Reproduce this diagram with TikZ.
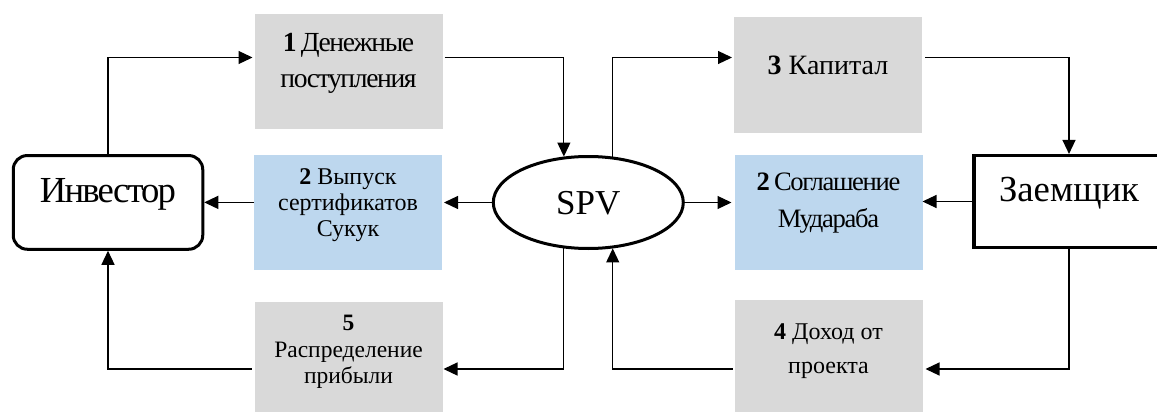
\documentclass[tikz,border=0pt]{standalone}
\usepackage{fontspec}
\setmainfont{Liberation Serif}
\newfontfamily\tightfont{Liberation Serif}[LetterSpace=-5]
\usetikzlibrary{arrows.meta, positioning, shapes.geometric}

\definecolor{stepgrey}{HTML}{D9D9D9}
\definecolor{stepblue}{HTML}{BDD7EE}

\begin{document}
\begin{tikzpicture}[
            x=1pt, y=-1pt,
            % Participants: investor, SPV, borrower
            party/.style={draw, line width=3pt, inner sep=0pt,
                text height=20pt, text depth=20pt,
                font=\fontsize{36.7}{40}\selectfont},
            % Step boxes (no border)
            stepbox/.style={minimum width=188pt, minimum height=115pt,
                inner sep=0pt, outer sep=0pt},
            greybox/.style={stepbox, fill=stepgrey},
            bluebox/.style={stepbox, fill=stepblue},
            % Text inside the step boxes
            steptext/.style={align=center, inner sep=0pt,
                font=\fontsize{24}{26}\selectfont},
            % Money / contract flows
            flow/.style={line width=1.2pt, -{Triangle[length=14pt, width=13pt]}}
        ]

            \useasboundingbox (0,0) rectangle (1157,412);
            \clip (0,0) rectangle (1157,412);

            % --- Participants ---
            \node[party, rounded corners=14pt, minimum width=189.5pt, minimum height=93.7pt,
                font=\tightfont\fontsize{36.7}{40}\selectfont] (inv) at (108,202.4) {Инвестор};
            \node[party, ellipse, minimum width=190pt, minimum height=92pt,
                text height=24pt, text depth=0pt,
                font=\fontsize{35}{40}\selectfont] (spv) at (588.3,202.5) {SPV};
            \node[party, line width=3.5pt, minimum width=190pt, minimum height=91.6pt]
                (zaem) at (1069,201.5) {Заемщик};

            % --- Steps, left column ---
            \node[greybox] (b1) at (348.5,71.5) {};
            \node[steptext, below=19.3pt of b1.north,
                font=\tightfont\fontsize{27.6}{35.5}\selectfont] (b1txt)
                {\textbf{1} Денежные\\поступления};

            \node[bluebox] (b2l) at (348,212) {};
            \node[steptext, below=13.8pt of b2l.north] (b2ltxt)
                {\textbf{2} Выпуск\\сертификатов\\Сукук};

            \node[greybox] (b5) at (348.5,359) {};
            \node[steptext, below=13.5pt of b5.north,
                font=\fontsize{23.5}{26.7}\selectfont] (b5txt)
                {\textbf{5}\\Распределение\\прибыли};

            % --- Steps, right column ---
            \node[greybox] (b3) at (828,75) {};
            \node[steptext, below=38pt of b3.north,
                font=\fontsize{28}{34}\selectfont] (b3txt)
                {\textbf{3} Капитал};

            \node[bluebox] (b2r) at (828.5,212) {};
            \node[steptext, below=18.5pt of b2r.north,
                font=\tightfont\fontsize{26.6}{36.6}\selectfont] (b2rtxt)
                {\textbf{2} Соглашение\\Мудараба};

            \node[greybox] (b4) at (828.5,357) {};
            \node[steptext, below=23.8pt of b4.north,
                font=\fontsize{24}{34}\selectfont] (b4txt)
                {\textbf{4} Доход от\\проекта};

            % --- Upper flows ---
            \draw[flow, shorten >=2pt] (inv.north) |- ([yshift=14pt]b1.west);
            \draw[flow, shorten <=2pt] ([yshift=14pt]b1.east) -| (spv.118);
            \draw[flow, shorten >=2pt] (spv.62) |- ([yshift=17.5pt]b3.west);
            \draw[flow, shorten <=3pt] ([yshift=17.5pt]b3.east) -| (zaem.north);

            % --- Middle flows ---
            \draw[flow, shorten >=2pt] (spv.west) -- (spv.west -| b2l.east);
            \draw[flow] (b2l.west |- inv.east) -- (inv.east);
            \draw[flow, shorten >=3pt] (spv.east) -- (spv.east -| b2r.west);
            \draw[flow] (zaem.west) -- (zaem.west -| b2r.east);

            % --- Lower flows ---
            \draw[flow, shorten >=3pt] (zaem.south) |- ([yshift=-12pt]b4.east);
            \draw[flow, shorten <=2pt] ([yshift=-12pt]b4.west) -| (spv.298);
            \draw[flow, shorten >=1pt] (spv.242) |- ([yshift=-10pt]b5.east);
            \draw[flow, shorten <=3pt] ([yshift=-10pt]b5.west) -| (inv.south);

        \end{tikzpicture}
\end{document}
